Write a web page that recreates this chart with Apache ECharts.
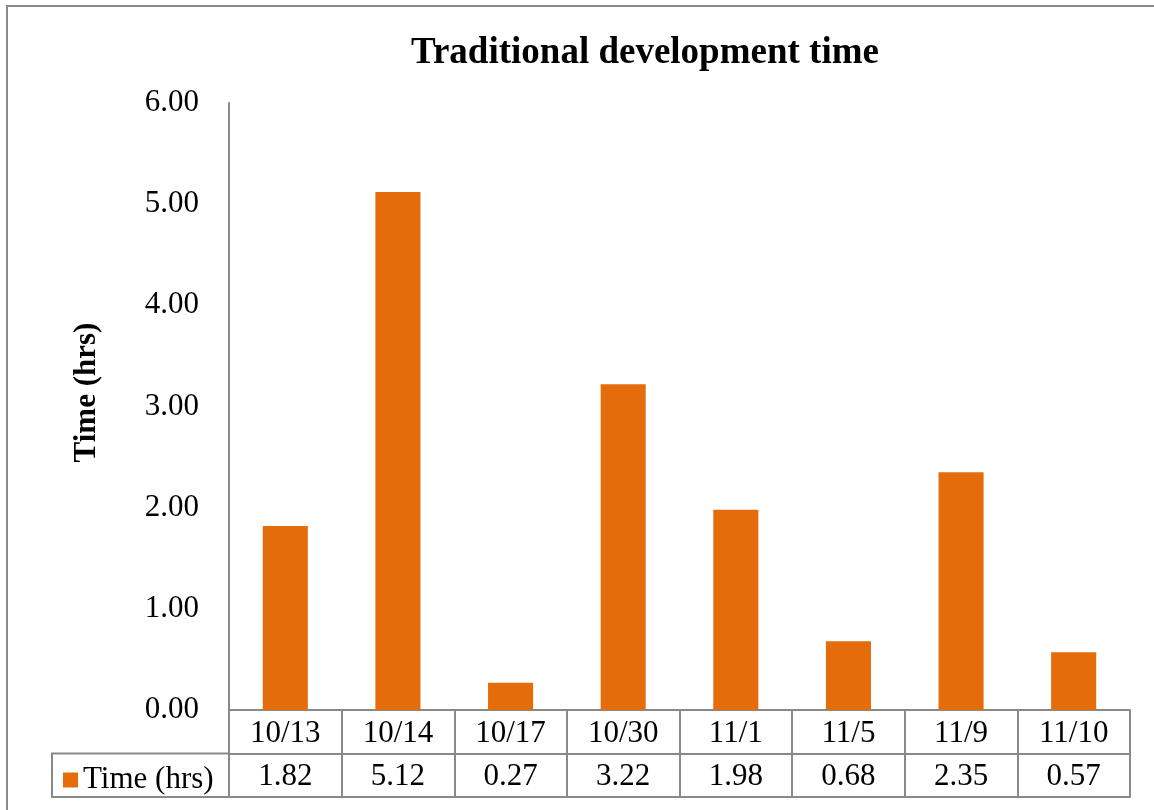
<!DOCTYPE html>
<html>
<head>
<meta charset="utf-8">
<script src="https://cdn.jsdelivr.net/npm/echarts@6/dist/echarts.min.js"></script>
<style>
  html, body { margin: 0; padding: 0; background: #ffffff; }
  #chart { width: 1154px; height: 810px; }
</style>
</head>
<body>
<div id="chart"></div>
<script>
// Session dates and hours spent per session
const categories = ['10/13', '10/14', '10/17', '10/30', '11/1', '11/5', '11/9', '11/10'];
const hours = [1.82, 5.12, 0.27, 3.22, 1.98, 0.68, 2.35, 0.57];
const seriesName = 'Time (hrs)';
const yTicks = { min: 0, max: 6, interval: 1 };

const FONT = '"Liberation Serif", "Times New Roman", serif';
const LINE = '#898989';
const BAR = '#E46C0A';

// layout of plot area and the data table beneath it
const plot = { left: 229, right: 24, top: 103, bottom: 100 };
const rowH = 43.5;
const tableLeft = 52;

const chart = echarts.init(document.getElementById('chart'), null, { renderer: 'canvas' });

const axisBottom = 810 - plot.bottom;

chart.setOption({
  animation: false,
  backgroundColor: '#ffffff',
  title: {
    text: 'Traditional development time',
    left: 406,
    top: 30,
    textStyle: { fontFamily: FONT, fontWeight: 'bold', fontSize: 37, color: '#000' }
  },
  legend: {
    data: [{ name: seriesName, icon: 'rect' }],
    left: tableLeft + 6,
    top: axisBottom + rowH + 6,
    itemWidth: 15,
    itemHeight: 15,
    itemGap: 6,
    textStyle: { fontFamily: FONT, fontSize: 31, color: '#000' },
    selectedMode: false
  },
  grid: { left: plot.left, right: plot.right, top: plot.top, bottom: plot.bottom, containLabel: false },
  xAxis: [
    {
      type: 'category',
      data: categories,
      position: 'bottom',
      axisLine: { show: true, lineStyle: { color: LINE, width: 2 } },
      axisTick: { show: true, interval: 0, length: rowH * 2, lineStyle: { color: LINE, width: 2 } },
      axisLabel: { interval: 0, margin: 8, fontFamily: FONT, fontSize: 31, color: '#000' }
    },
    {
      type: 'category',
      data: categories,
      position: 'bottom',
      offset: rowH,
      axisLine: { show: true, lineStyle: { color: LINE, width: 2 } },
      axisTick: { show: false },
      axisLabel: {
        interval: 0, margin: 8, fontFamily: FONT, fontSize: 31, color: '#000',
        formatter: (v, i) => hours[i].toFixed(2)
      }
    },
    {
      type: 'category',
      data: categories,
      position: 'bottom',
      offset: rowH * 2,
      axisLine: { show: true, lineStyle: { color: LINE, width: 2 } },
      axisTick: { show: false },
      axisLabel: { show: false }
    }
  ],
  yAxis: {
    type: 'value',
    min: yTicks.min,
    max: yTicks.max,
    interval: yTicks.interval,
    name: seriesName,
    nameLocation: 'middle',
    nameGap: 127,
    nameTextStyle: { fontFamily: FONT, fontWeight: 'bold', fontSize: 31, color: '#000', padding: [0, 0, 0, 28] },
    axisLine: { show: true, lineStyle: { color: LINE, width: 2 } },
    axisTick: { show: false },
    splitLine: { show: false },
    axisLabel: {
      margin: 30, fontFamily: FONT, fontSize: 31, color: '#000',
      formatter: v => v.toFixed(2)
    }
  },
  series: [{
    name: seriesName,
    type: 'bar',
    xAxisIndex: 0,
    data: hours,
    barWidth: '40%',
    itemStyle: { color: BAR }
  }],
  graphic: [
    {
      type: 'rect',
      shape: { x: 7, y: 6, width: 1160, height: 830 },
      style: { fill: null, stroke: LINE, lineWidth: 2 },
      silent: true
    },
    {
      type: 'rect',
      shape: { x: tableLeft, y: axisBottom + rowH, width: plot.left - tableLeft, height: rowH },
      style: { fill: null, stroke: LINE, lineWidth: 2 },
      silent: true
    }
  ]
});
</script>
</body>
</html>
